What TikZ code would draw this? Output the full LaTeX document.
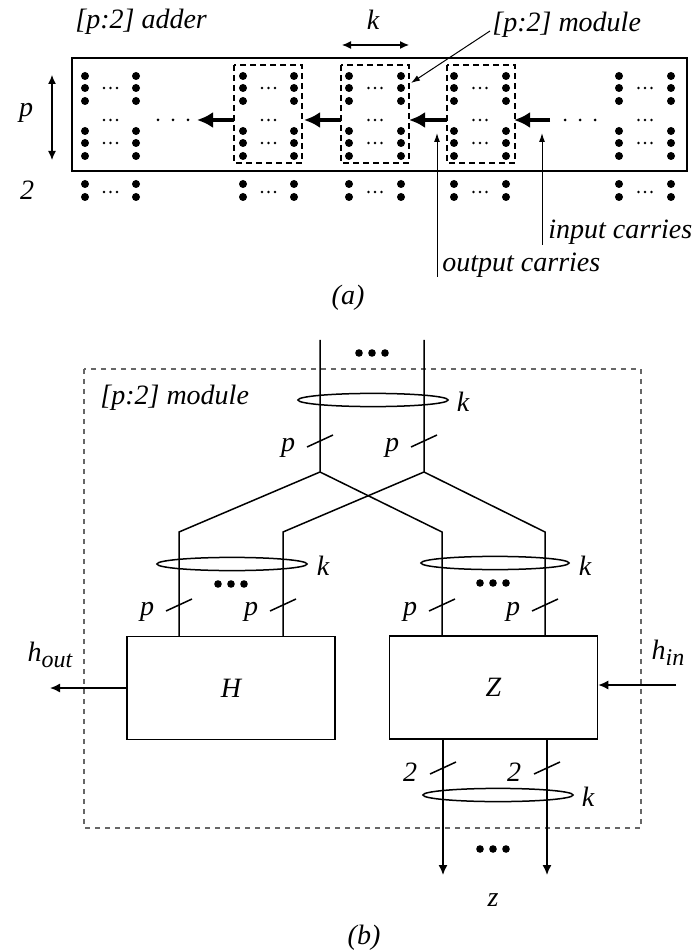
\documentclass[tikz,border=0pt]{standalone}
\usepackage{fontspec}
\setmainfont{Liberation Serif}
\usetikzlibrary{arrows.meta,shapes.geometric}
\newcommand\dotgrp[2]{%
  \pgfmathsetmacro\gmid{(#1+#2)/2}%
  \foreach \yy in {76,88,101,131,143,156,184,197}{%
    \fill (#1,\yy) circle[radius=2pt];
    \fill (#2,\yy) circle[radius=2pt];}
  \foreach \yy in {88,120,143,192}{%
    \foreach \dx in {-6.5,0,6.5}{\fill (\gmid+\dx,\yy) circle[radius=0.7pt];}}
}
\newcommand\bigdots[2]{%
  \foreach \dx in {-13,0,13}{\fill (#1+\dx,#2) circle[radius=1.9pt];}}
\begin{document}
\begin{tikzpicture}[x=0.5pt,y=-0.5pt,
  lbl/.style={font=\fontsize{14}{16}\selectfont\itshape, inner sep=0pt},
  thickarr/.style={line width=2pt,-{Latex[length=8pt,width=8pt]}},
  thinarr/.style={line width=0.5pt,-{Latex[length=4.5pt,width=3pt]}},
  dimarr/.style={line width=0.6pt,{Latex[length=4.5pt,width=4pt]}-{Latex[length=4.5pt,width=4pt]}},
  wire/.style={line width=0.75pt},
  wirearr/.style={line width=0.75pt,-{Latex[length=5pt,width=4.5pt]}},
  blk/.style={draw,line width=0.75pt,minimum width=104pt,minimum height=51.5pt,inner sep=0pt,font=\fontsize{14}{16}\selectfont\itshape},
  bundle/.style={line width=0.75pt}]
\useasboundingbox (0,0) rectangle (693,951);

% ---------------- (a) ----------------
\node[lbl,anchor=west] (tadder) at (75,22) {[p:2] adder};
\draw[line width=0.6pt] (72,58) rectangle (687,171);
\coordinate (pt) at (52,75); \coordinate (pb) at (52,160);
\draw[dimarr] (pt) -- (pb);
\node[lbl] (lp) at (26,113) {p};
\node[lbl] (l2) at (27,190) {2};

\draw[line width=0.7pt,dash pattern=on 3pt off 2pt] (234,65) rectangle (302,163);
\draw[line width=0.7pt,dash pattern=on 3pt off 2pt] (341,65) rectangle (409,163);
\draw[line width=0.7pt,dash pattern=on 3pt off 2pt] (447,65) rectangle (515,163);

\dotgrp{85}{136}
\dotgrp{243}{294}
\dotgrp{349}{401}
\dotgrp{454}{506}
\dotgrp{619}{671}

\foreach \xx in {158,173,188,565,580,595}{\fill (\xx,120) circle[radius=0.75pt];}

\coordinate (a1s) at (234,120); \coordinate (a1e) at (197,120);
\coordinate (a2s) at (341,120); \coordinate (a2e) at (304,120);
\coordinate (a3s) at (447,120); \coordinate (a3e) at (409,120);
\coordinate (a4s) at (550,120); \coordinate (a4e) at (514,120);
\draw[thickarr] (a1s) -- (a1e);
\draw[thickarr] (a2s) -- (a2e);
\draw[thickarr] (a3s) -- (a3e);
\draw[thickarr] (a4s) -- (a4e);

\coordinate (kl) at (342,45); \coordinate (kr) at (409,45);
\draw[dimarr] (kl) -- (kr);
\node[lbl] (lk) at (373,20) {k};

\node[lbl,anchor=west] (tmod) at (492,25) {[p:2] module};
\coordinate (mtip) at (411,83);
\draw[thinarr] (490,31) -- (mtip);

\node[lbl,anchor=west] (tin) at (548,232) {input carries};
\node[lbl,anchor=west] (tout) at (442,265) {output carries};
\coordinate (ins) at (542,245); \coordinate (ine) at (542,133);
\coordinate (outs) at (437,277); \coordinate (oute) at (437,133);
\draw[thinarr] (ins) -- (ine);
\draw[thinarr] (outs) -- (oute);
\node[lbl] (capa) at (348,298) {(a)};

% ---------------- (b) ----------------
\draw[black!60,line width=0.6pt,dash pattern=on 2.5pt off 2.5pt] (84,369) rectangle (641,828);
\node[lbl,anchor=west] (tmod2) at (100,398) {[p:2] module};

\node[blk] (H) at (231,688) {H};
\node[blk] (Z) at (493.5,687.5) {Z};

% top wires
\coordinate (t1) at (320,340); \coordinate (j1) at (320,472);
\coordinate (t2) at (424,340); \coordinate (j2) at (424,472);
\coordinate (h1) at (179,532); \coordinate (h2) at (283,532);
\coordinate (z1) at (442,532); \coordinate (z2) at (545,532);
\draw[wire] (t1) -- (j1) -- (h1) -- (h1 |- H.north);
\draw[wire] (j1) -- (z1) -- (z1 |- Z.north);
\draw[wire] (t2) -- (j2) -- (h2) -- (h2 |- H.north);
\draw[wire] (j2) -- (z2) -- (z2 |- Z.north);

\bigdots{372}{353}
\bigdots{231}{584}
\bigdots{493}{583}
\bigdots{493}{849}

\draw[bundle] (373,400) ellipse[x radius=37.5pt,y radius=3.3pt];
\draw[bundle] (232,564) ellipse[x radius=37.5pt,y radius=3.3pt];
\draw[bundle] (495,563) ellipse[x radius=37pt,y radius=3.3pt];
\draw[bundle] (498,795) ellipse[x radius=37.5pt,y radius=3.3pt];
\node[lbl] (k1) at (463,402) {k};
\node[lbl] (k2) at (323,566) {k};
\node[lbl] (k3) at (585,566) {k};
\node[lbl] (k4) at (588,797) {k};

% slashes and bit widths
\foreach \xx/\yy/\tt in {320/441/p,424/441/p,179/605/p,283/605/p,442/605/p,545/605/p}{
  \draw[wire] (\xx-13,\yy+6) -- (\xx+13,\yy-6);
  \node[lbl] at (\xx-32,\yy+7) {\tt};}
\foreach \xx/\yy in {443/768,547/768}{
  \draw[wire] (\xx-13,\yy+6) -- (\xx+13,\yy-6);
  \node[lbl] at (\xx-33,\yy+4) {2};}

% outputs
\coordinate (o1) at (443,875); \coordinate (o2) at (547,875);
\draw[wirearr] (o1 |- Z.south) -- (o1);
\draw[wirearr] (o2 |- Z.south) -- (o2);
\node[lbl] (lz) at (493,900) {z};

\coordinate (hout) at (50,688); \coordinate (hin) at (676,685);
\draw[wirearr] (H.west) -- (hout);
\draw[wirearr] (hin) -- (hin -| Z.east);
\node[lbl] (lhout) at (50,655) {h\raisebox{-0.45ex}{\fontsize{12}{13}\selectfont out}};
\node[lbl] (lhin) at (668,653) {h\raisebox{-0.45ex}{\fontsize{12}{13}\selectfont in}};

\node[lbl] (capb) at (364,938) {(b)};
\end{tikzpicture}
\end{document}
